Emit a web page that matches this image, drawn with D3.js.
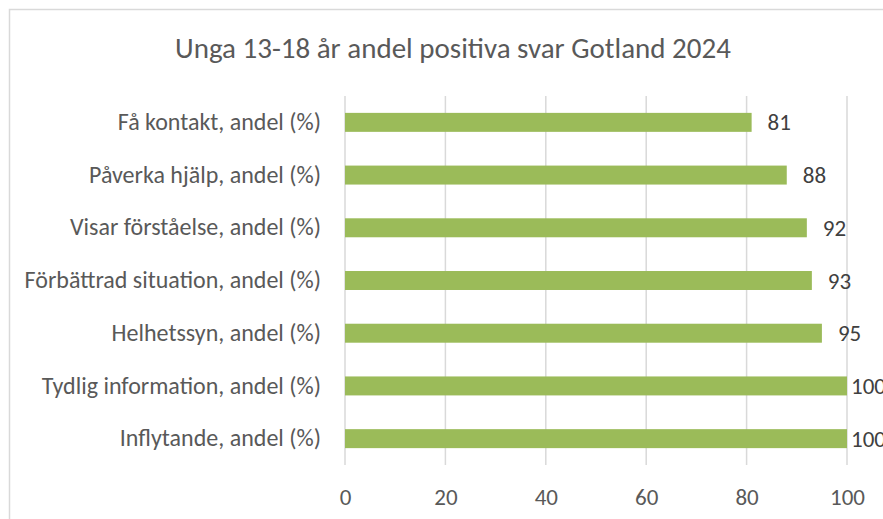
<!DOCTYPE html>
<html>
<head>
<meta charset="utf-8">
<script src="https://d3js.org/d3.v7.min.js"></script>
<style>
  body { margin: 0; background: #fff; }
  svg { display: block; font-family: Carlito, Lato, sans-serif; }
</style>
</head>
<body>
<svg width="883" height="519"></svg>
<script>
var categories = ["Få kontakt, andel (%)", "Påverka hjälp, andel (%)", "Visar förståelse, andel (%)",
  "Förbättrad situation, andel (%)", "Helhetssyn, andel (%)", "Tydlig information, andel (%)",
  "Inflytande, andel (%)"];
var values = [81, 88, 92, 93, 95, 100, 100];
var ticks = [0, 20, 40, 60, 80, 100];
var title = "Unga 13-18 år andel positiva svar Gotland 2024";

var svg = d3.select("svg");

// chart frame (cropped at right and bottom like the original)
svg.append("rect")
    .attr("x", 9.5).attr("y", 9.5)
    .attr("width", 900).attr("height", 540)
    .attr("fill", "#fff")
    .attr("stroke", "#d9d9d9")
    .attr("stroke-width", 1.5);

svg.append("text")
    .attr("x", 453).attr("y", 58)
    .attr("text-anchor", "middle")
    .attr("fill", "#595959")
    .style("font-size", "29px")
    .text(title);

var x = d3.scaleLinear().domain([0, 100]).range([345, 847]);
var y = d3.scaleBand().domain(categories).range([96, 465]).paddingInner(0.64).paddingOuter(0.32);

var g = svg.append("g");

// gridlines
g.selectAll("line.grid")
  .data(ticks)
  .enter().append("line")
    .attr("class", "grid")
    .attr("x1", function(d) { return x(d); })
    .attr("x2", function(d) { return x(d); })
    .attr("y1", 96).attr("y2", 465)
    .attr("stroke", "#d9d9d9")
    .attr("stroke-width", 1.5);

// x axis tick labels
var xAxis = g.append("g")
    .attr("transform", "translate(0,465)")
    .call(d3.axisBottom(x).tickValues(ticks).tickSize(0).tickPadding(0));
xAxis.select(".domain").remove();
xAxis.selectAll("text")
    .attr("fill", "#595959")
    .attr("y", 40)
    .attr("dy", null)
    .style("font-size", "23px")
    .style("font-family", "Carlito, Lato, sans-serif");

// y axis category labels
var yAxis = g.append("g")
    .attr("transform", "translate(345,0)")
    .call(d3.axisLeft(y).tickSize(0).tickPadding(24));
yAxis.select(".domain").remove();
yAxis.selectAll("text")
    .attr("fill", "#595959")
    .style("font-size", "24px")
    .style("font-family", "Carlito, Lato, sans-serif");

// bars
g.selectAll("rect.bar")
  .data(values)
  .enter().append("rect")
    .attr("class", "bar")
    .attr("x", x(0))
    .attr("y", function(d, i) { return y(categories[i]); })
    .attr("width", function(d) { return x(d) - x(0); })
    .attr("height", y.bandwidth())
    .attr("fill", "#9bbb59");

// value labels
g.selectAll("text.val")
  .data(values)
  .enter().append("text")
    .attr("class", "val")
    .attr("x", function(d) { return Math.min(x(d) + 16, x(100) + 4); })
    .attr("y", function(d, i) { return y(categories[i]) + y.bandwidth() / 2; })
    .attr("dy", "0.35em")
    .attr("fill", "#404040")
    .style("font-size", "23px")
    .text(function(d) { return d; });
</script>
</body>
</html>
